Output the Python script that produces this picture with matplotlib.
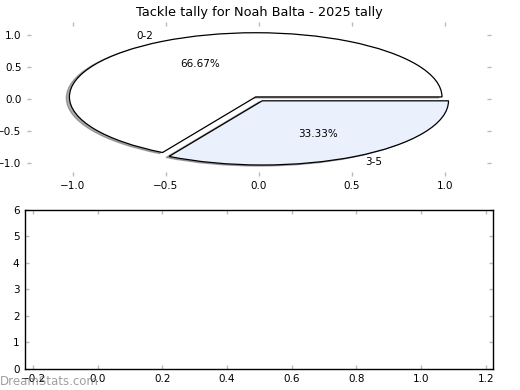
import numpy as np
import matplotlib.pyplot as plt

labels = ["0-2", "3-5"]
counts = [2, 1]
colors = ["#ffffff", "#eaf0fc"]
title = "Tackle tally for Noah Balta - 2025 tally"

fig = plt.figure(figsize=(5.2, 3.9), dpi=100)

# top: stretched pie
ax1 = fig.add_axes([0.052, 0.549, 0.892, 0.395])
wedges, texts, autotexts = ax1.pie(counts, labels=labels, colors=colors, autopct="%.2f%%",
                                   explode=[0.035, 0.035],
                                   shadow=dict(ox=-0.012, oy=-0.012, alpha=0.45),
                                   startangle=0,
                                   wedgeprops=dict(edgecolor="black", linewidth=0.9),
                                   textprops=dict(fontsize=7.5))
ax1.set_aspect("auto")
ax1.set_frame_on(False)
ax1.set_xlim(-1.245, 1.245)
ax1.set_ylim(-1.2, 1.2)
ax1.set_xticks([-1.0, -0.5, 0.0, 0.5, 1.0])
ax1.set_yticks([-1.0, -0.5, 0.0, 0.5, 1.0])
ax1.set_title(title, fontsize=9.3, pad=4)

# bottom: empty axes
ax2 = fig.add_axes([0.048, 0.054, 0.9, 0.408])
ax2.set_xlim(-0.225, 1.222)
ax2.set_ylim(0, 6)
ax2.set_xticks(np.arange(-0.2, 1.21, 0.2))
ax2.set_yticks(range(0, 7))
for sp in ax2.spines.values():
    sp.set_color("black")
    sp.set_linewidth(1.0)

for ax in (ax1, ax2):
    ax.tick_params(direction="in", length=3, width=1, color="#bbbbbb",
                   top=True, right=True, labelsize=7.5, pad=4)

fig.text(0.0, 0.012, "DreamStats.com", fontsize=8.5, color="#777777", alpha=0.7)

fig.savefig("out.png", dpi=100)
